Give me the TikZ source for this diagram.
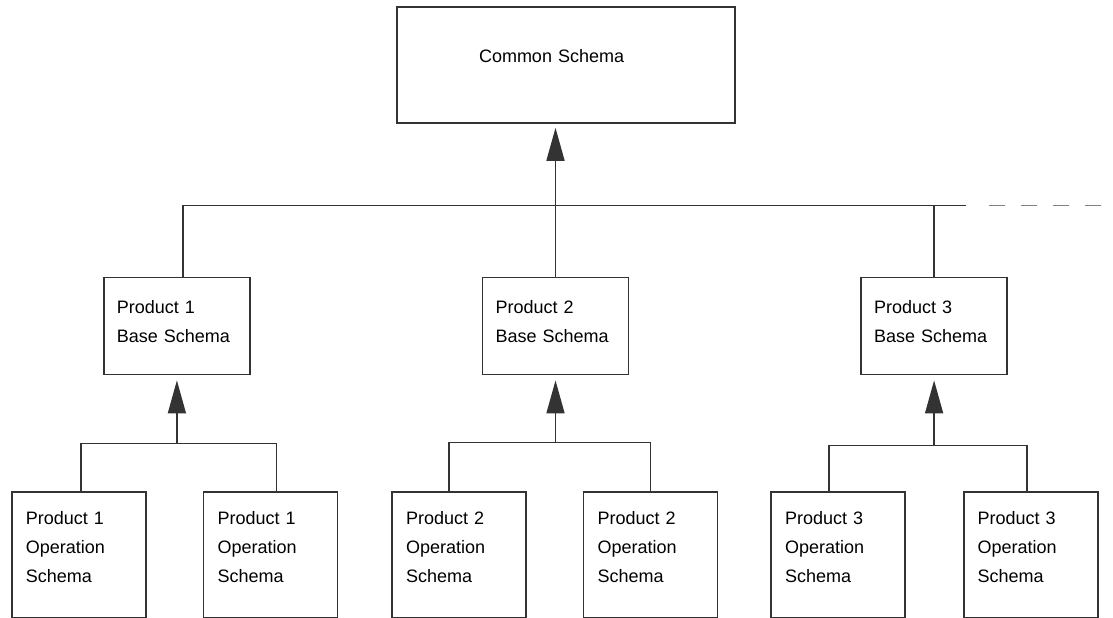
\documentclass[tikz,border=0pt]{standalone}
\usepackage{fontspec}
\setmainfont{Liberation Sans}
\usetikzlibrary{positioning, arrows.meta}

\begin{document}
\begin{tikzpicture}[x=1pt, y=1pt,
    box/.style={draw=black!80, line width=0.8pt, rectangle, inner ysep=0pt, align=left, font=\fontsize{9}{14.5}\selectfont},
    basebox/.style={box, text width=60pt, inner xsep=6.5pt, minimum height=48.5pt, text depth=19.5pt},
    opbox/.style={box, text width=53pt, inner xsep=7pt, minimum height=63pt, text depth=37pt},
    link/.style={draw=black!80, line width=0.8pt},
    uparrow/.style={link, -{Triangle[length=16.5pt, width=9pt]}, shorten >=2.5pt}]
    \useasboundingbox (0,0) rectangle (556.5,-308.5);

    % Nodes
    \node[box, text width=87pt, inner xsep=41pt, minimum height=58pt, text depth=9pt] (common) at (283,-32.5) {Common Schema};
    \node[basebox, below=76.5pt of common, xshift=-5.25pt] (base2) {Product 2\\Base Schema};
    \node[basebox, left=115.5pt of base2] (base1) {Product 1\\Base Schema};
    \node[basebox, right=115.5pt of base2] (base3) {Product 3\\Base Schema};
    \node[opbox, below=58pt of base1, xshift=-49pt] (op1a) {Product 1\\Operation\\Schema};
    \node[opbox, right=28pt of op1a] (op1b) {Product 1\\Operation\\Schema};
    \node[opbox, below=58pt of base2, xshift=-48.25pt] (op2a) {Product 2\\Operation\\Schema};
    \node[opbox, right=28pt of op2a] (op2b) {Product 2\\Operation\\Schema};
    \node[opbox, below=58pt of base3, xshift=-48pt] (op3a) {Product 3\\Operation\\Schema};
    \node[opbox, right=28.5pt of op3a] (op3b) {Product 3\\Operation\\Schema};

    % Bus lines
    \coordinate[above=35.75pt of base2.north] (bustop);
    \coordinate[right=205pt of bustop] (busend);
    \coordinate[right=68.5pt of busend] (dashend);
    \coordinate[below=34pt of base1.south] (bus1);
    \coordinate[below=33.5pt of base2.south] (bus2);
    \coordinate[below=35pt of base3.south] (bus3);

    % Connections
    \draw[link] ([xshift=3pt]base1.north) |- (busend);
    \draw[link] (base3.north) -- (base3.north |- bustop);
    \draw[link, draw=black!50, dash pattern=on 8pt off 8pt] ([xshift=11.5pt]busend) -- (dashend);
    \draw[uparrow, shorten >=2pt] (base2.north) -- (base2.north |- common.south);
    \draw[link] ([xshift=1pt]op1a.north) |- (bus1) -| ([xshift=3pt]op1b.north);
    \draw[uparrow] (bus1) -- (base1.south);
    \draw[link] ([xshift=-5pt]op2a.north) |- (bus2) -| (op2b.north);
    \draw[uparrow] (bus2) -- (base2.south);
    \draw[link] ([xshift=-4.5pt]op3a.north) |- (bus3) -| ([xshift=-2pt]op3b.north);
    \draw[uparrow] (bus3) -- (base3.south);
\end{tikzpicture}
\end{document}
